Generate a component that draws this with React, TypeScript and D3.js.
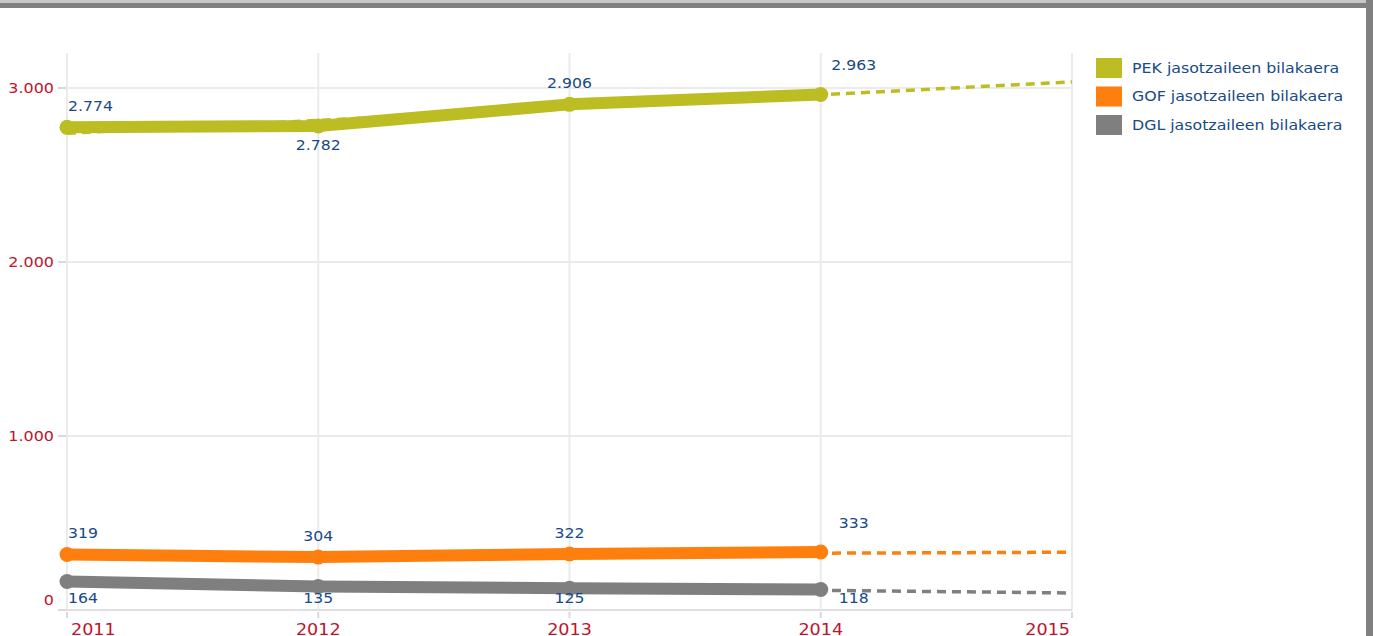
import React from "react";
import * as d3 from "d3";

const years = ["2011", "2012", "2013", "2014", "2015"];
const seriesNames = ["PEK jasotzaileen bilakaera", "GOF jasotzaileen bilakaera", "DGL jasotzaileen bilakaera"];
const pekValues = [2774, 2782, 2906, 2963];
const gofValues = [319, 304, 322, 333];
const dglValues = [164, 135, 125, 118];
// trend lines (start 2011, end 2015)
const pekTrend = [2740, 3035];
const gofTrend = [310, 332];
const dglTrend = [158, 98];
const yTicks = [0, 1000, 2000, 3000];
const colors = ["#bcbd22", "#ff7f0e", "#7f7f7f"];

const W = 1373;
const H = 636;
const LABEL = "#174a87";
const RED = "#c0142c";
const FONT = "'DejaVu Sans', Verdana, sans-serif";

const fmt = (v: number) => d3.format(",")(v).replace(/,/g, ".");

function SText({ x, y, sx, size, fill, anchor, children }: any) {
  return (
    <text
      transform={`translate(${x},${y}) scale(${sx},1)`}
      fontSize={size}
      fill={fill}
      textAnchor={anchor}
      dominantBaseline="central"
      fontFamily={FONT}
    >
      {children}
    </text>
  );
}

export default function App() {
  const x = d3.scalePoint<string>().domain(years).range([67, 1072]);
  const y = d3.scaleLinear().domain([0, 3000]).range([610, 88]);
  const line = d3
    .line<number>()
    .x((_, i) => x(years[i]) as number)
    .y((d) => y(d));
  const trendLine = d3
    .line<number>()
    .x((_, i) => (i === 0 ? (x(years[0]) as number) : (x(years[4]) as number)))
    .y((d) => y(d));

  const series = [
    { key: "PEK", values: pekValues, trend: pekTrend, color: colors[0] },
    { key: "GOF", values: gofValues, trend: gofTrend, color: colors[1] },
    { key: "DGL", values: dglValues, trend: dglTrend, color: colors[2] },
  ];

  const plotTop = 53;
  const plotBottom = 610;
  const left = 67;
  const right = 1072;

  return (
    <div style={{ position: "absolute", left: 0, top: 0, width: W, height: H, background: "#fff" }}>
      <svg width={W} height={H} style={{ display: "block" }}>
        <rect x={0} y={0} width={W} height={H} fill="#ffffff" />
        {/* frame */}
        <rect x={0} y={0} width={W} height={3} fill="#c8c8c8" />
        <rect x={0} y={3} width={1367} height={5} fill="#808080" />
        <rect x={1366} y={0} width={7} height={H} fill="#808080" />

        {/* grid */}
        {years.map((yr) => (
          <line key={yr} x1={x(yr)} x2={x(yr)} y1={plotTop} y2={plotBottom} stroke="#ebebeb" strokeWidth={2} />
        ))}
        {yTicks.map((t) => (
          <line key={t} x1={left} x2={right} y1={y(t)} y2={y(t)} stroke="#ebebeb" strokeWidth={2} />
        ))}
        {/* axes */}
        <line x1={58} x2={right} y1={plotBottom} y2={plotBottom} stroke="#e0e0e0" strokeWidth={2} />
        {yTicks.map((t) => (
          <line key={"yt" + t} x1={58} x2={66} y1={y(t)} y2={y(t)} stroke="#d9d9d9" strokeWidth={2} />
        ))}
        {years.map((yr) => (
          <line key={"xt" + yr} x1={x(yr)} x2={x(yr)} y1={612} y2={618} stroke="#d9d9d9" strokeWidth={2} />
        ))}
        {yTicks.map((t) => (
          <SText key={"yl" + t} x={54} y={t === 0 ? y(t) - 10 : y(t)} sx={1.14} size={14} fill={RED} anchor="end">
            {fmt(t)}
          </SText>
        ))}
        {years.map((yr, i) => {
          const px = x(yr) as number;
          const anchor = i === 0 ? "start" : i === years.length - 1 ? "end" : "middle";
          const xx = i === 0 ? px + 4 : i === years.length - 1 ? px - 2 : px;
          return (
            <SText key={"xl" + yr} x={xx} y={629} sx={1.1} size={16} fill={RED} anchor={anchor}>
              {yr}
            </SText>
          );
        })}

        {/* series lines */}
        {series.map((s) => (
          <g key={s.key}>
            <path d={line(s.values) || ""} fill="none" stroke={s.color} strokeWidth={12} strokeLinejoin="round" />
            {s.values.map((v, i) => (
              <circle key={i} cx={x(years[i])} cy={y(v)} r={7.5} fill={s.color} />
            ))}
            <path d={trendLine(s.trend) || ""} fill="none" stroke={s.color} strokeWidth={3.5} strokeDasharray="9,6" />
          </g>
        ))}

        {/* data labels */}
        {series.map((s) =>
          s.values.map((v, i) => {
            const px = x(years[i]) as number;
            const py = y(v);
            const below = s.key === "DGL" || (s.key === "PEK" && i === 1);
            let lx = px;
            let ly = below ? py + 19 : py - 21;
            let anchor = "middle";
            if (i === 0) {
              lx = px + 1;
              anchor = "start";
            }
            if (i === 3) {
              lx = px + 33;
              ly = below ? py + 9 : py - 29;
            }
            if (s.key === "DGL") ly = 598;
            return (
              <SText key={s.key + i} x={lx} y={ly} sx={1.12} size={14} fill={LABEL} anchor={anchor}>
                {fmt(v)}
              </SText>
            );
          })
        )}

        {/* legend */}
        {seriesNames.map((n, i) => (
          <g key={n}>
            <rect x={1096} y={58 + i * 28.5} width={26} height={20} fill={colors[i]} />
            <SText x={1132} y={68 + i * 28.5} sx={1.09} size={14.5} fill={LABEL} anchor="start">
              {n}
            </SText>
          </g>
        ))}
      </svg>
    </div>
  );
}
